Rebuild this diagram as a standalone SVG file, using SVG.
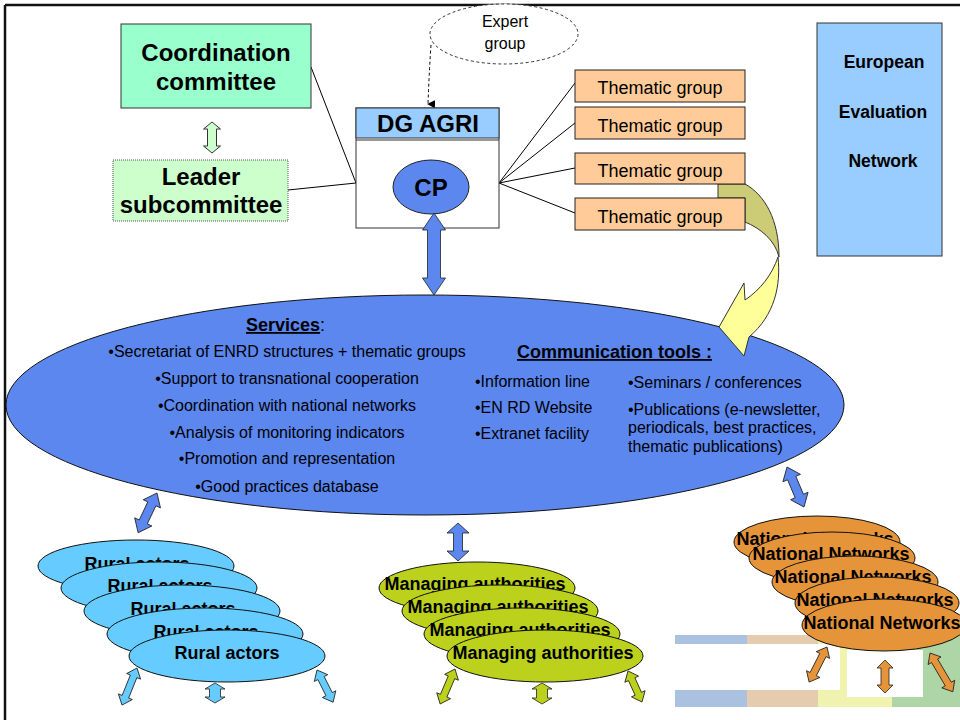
<svg xmlns="http://www.w3.org/2000/svg" width="960" height="720" viewBox="0 0 960 720">
<style>
text{font-family:"Liberation Sans",Arial,sans-serif;fill:#000}
.b{font-weight:bold}
.box{stroke:#333;stroke-width:1}
.ln{stroke:#000;stroke-width:1;fill:none}
.arB{fill:#5B87EF;stroke:#222;stroke-width:0.8}
.arR{fill:#66CCFF;stroke:#222;stroke-width:0.8}
.arM{fill:#BCD11B;stroke:#222;stroke-width:0.8}
.arN{fill:#E6943A;stroke:#222;stroke-width:0.8}
.eR{fill:#66CCFF;stroke:#111;stroke-width:1}
.eM{fill:#BCD11B;stroke:#111;stroke-width:1}
.eN{fill:#E6943A;stroke:#111;stroke-width:1}
.th{fill:#FFCC99;stroke:#222;stroke-width:1}
.stk{font-size:18px;font-weight:bold;text-anchor:middle}
</style>
<defs>
<marker id="ah" markerWidth="8" markerHeight="8" refX="4" refY="7" orient="auto-start-reverse" markerUnits="userSpaceOnUse" viewBox="0 0 8 8">
<path d="M0,0 L8,0 L4,8 Z" fill="#000"/>
</marker>
</defs>
<rect width="960" height="720" fill="#fff"/>

<!-- background bars -->
<g id="bgbars">
<rect x="675" y="635" width="72" height="72" fill="#AAC2E0"/>
<rect x="747" y="635" width="71" height="72" fill="#E6CCAE"/>
<rect x="818" y="635" width="74" height="72" fill="#F0F2B0"/>
<rect x="892" y="635" width="68" height="72" fill="#AED5A5"/>
<rect x="675" y="644" width="165" height="46" fill="#fff"/>
<rect x="847" y="650" width="76" height="47" fill="#fff"/>
</g>

<!-- frame -->
<path d="M5,5 H960 M5,5 V720" stroke="#111" stroke-width="2.5" fill="none"/>

<!-- connectors -->
<g id="connectors">
<path class="ln" d="M311,67 L356,183"/>
<path class="ln" d="M288,190 L356,183"/>
<path class="ln" d="M499,183 L575,83 M499,183 L575,123 M499,183 L575,168 M499,183 L575,213"/>
<path class="ln" d="M431,139 V160"/>
<path d="M431,45 Q429,75 428,104" stroke="#000" stroke-width="1" fill="none" stroke-dasharray="3,2.5" marker-end="url(#ah)"/>
<polygon class="box" fill="#CCFFCC" transform="translate(212,122) rotate(90)" points="0,0 7,-8.5 7,-4.5 24,-4.5 24,-8.5 31,0 24,8.5 24,4.5 7,4.5 7,8.5"/>
</g>

<!-- expert group -->
<g id="expert">
<ellipse cx="504" cy="34" rx="74" ry="30" fill="#fff" stroke="#333" stroke-width="1" stroke-dasharray="3,2.5"/>
<text x="505" y="27" font-size="16" text-anchor="middle">Expert</text>
<text x="505" y="49" font-size="16" text-anchor="middle">group</text>
</g>

<!-- coordination committee -->
<g id="coord">
<rect x="121" y="24" width="190" height="84" fill="#99FFCC" class="box"/>
<text x="216" y="61" font-size="24" class="b" text-anchor="middle">Coordination</text>
<text x="216" y="90" font-size="24" class="b" text-anchor="middle">committee</text>
</g>

<!-- leader subcommittee -->
<g id="leader">
<rect x="113" y="160" width="175" height="61" fill="#CCFFCC" stroke="#555" stroke-width="1" stroke-dasharray="1,1"/>
<text x="201" y="185" font-size="24" class="b" text-anchor="middle">Leader</text>
<text x="201" y="213" font-size="24" class="b" text-anchor="middle">subcommittee</text>
</g>

<!-- DG AGRI -->
<g id="dgagri">
<rect x="356" y="108" width="143" height="120" fill="#fff" class="box"/>
<rect x="356" y="108" width="143" height="30" fill="#99CCFF" class="box"/>
<line x1="356" y1="140" x2="499" y2="140" stroke="#333" stroke-width="1"/>
<text x="428" y="132" font-size="24" class="b" text-anchor="middle">DG AGRI</text>
</g>
<g id="cp">
<ellipse cx="431" cy="187" rx="38" ry="27" fill="#5B87EF" stroke="#222" stroke-width="1"/>
<text x="431" y="196" font-size="24" class="b" text-anchor="middle">CP</text>
</g>

<!-- European Evaluation Network -->
<g id="een">
<rect x="817" y="23" width="125" height="233" fill="#99CCFF" class="box"/>
<text x="884" y="68" font-size="17.5" class="b" text-anchor="middle">European</text>
<text x="883" y="118" font-size="17.5" class="b" text-anchor="middle">Evaluation</text>
<text x="883" y="167" font-size="17.5" class="b" text-anchor="middle">Network</text>
</g>

<!-- main ellipse -->
<g id="services">
<ellipse cx="425" cy="405" rx="419" ry="110" fill="#5B87EF" stroke="#111" stroke-width="1"/>
<text x="246" y="331" font-size="18"><tspan font-weight="bold" text-decoration="underline">Services</tspan>:</text>
<g text-anchor="middle">
<text x="287" y="357" font-size="16">•Secretariat of ENRD structures + thematic groups</text>
<text x="287" y="384" font-size="16">•Support to transnational cooperation</text>
<text x="287" y="411" font-size="16">•Coordination with national networks</text>
<text x="287" y="438" font-size="16">•Analysis of monitoring indicators</text>
<text x="287" y="464" font-size="16">•Promotion and representation</text>
<text x="287" y="492" font-size="16">•Good practices database</text>
</g>
<text x="517" y="358" font-size="18" font-weight="bold" text-decoration="underline">Communication tools :</text>
<text x="475" y="387" font-size="16">•Information line</text>
<text x="475" y="413" font-size="16">•EN RD Website</text>
<text x="475" y="439" font-size="16">•Extranet facility</text>
<text x="628" y="388" font-size="16">•Seminars / conferences</text>
<text x="628" y="415" font-size="16">•Publications (e-newsletter,</text>
<text x="628" y="433" font-size="16">periodicals, best practices,</text>
<text x="628" y="452" font-size="16">thematic publications)</text>
</g>

<!-- curved arrow -->
<g id="curved">
<path d="M718,184 L745,184 C765,195 779,220 779,257 C775,240 760,228 745,222 L745,198 L718,198 Z" fill="#CCCC77" stroke="#333" stroke-width="1"/>
<path d="M778,257 C781,285 775,315 749,337 L744,356 L719,327 L744,283 L745,300 C760,290 772,275 778,257 Z" fill="#FFFF99" stroke="#333" stroke-width="1"/>
</g>

<!-- thematic groups -->
<g id="tg1"><rect class="th" x="575" y="70" width="170" height="32"/><text x="660" y="94" font-size="18" text-anchor="middle">Thematic group</text></g>
<g id="tg2"><rect class="th" x="575" y="107" width="170" height="32"/><text x="660" y="132" font-size="18" text-anchor="middle">Thematic group</text></g>
<g id="tg3"><rect class="th" x="575" y="153" width="170" height="31"/><text x="660" y="177" font-size="18" text-anchor="middle">Thematic group</text></g>
<g id="tg4"><rect class="th" x="575" y="198" width="170" height="32"/><text x="660" y="223" font-size="18" text-anchor="middle">Thematic group</text></g>

<!-- blue arrows -->
<g id="blue-arrows">
<polygon class="arB" points="434,213 445.5,230 440.5,230 440.5,278 445.5,278 434,295 422.5,278 427.5,278 427.5,230 422.5,230"/>
<polygon class="arB" transform="translate(157,493) rotate(115.4)" points="0,0 12,-9.5 12,-4.5 32,-4.5 32,-9.5 44,0 32,9.5 32,4.5 12,4.5 12,9.5"/>
<polygon class="arB" transform="translate(458,523) rotate(90)" points="0,0 10,-11 10,-4.5 28,-4.5 28,-11 38,0 28,11 28,4.5 10,4.5 10,11"/>
<polygon class="arB" transform="translate(787,467) rotate(67)" points="0,0 12,-9.5 12,-4.5 31.5,-4.5 31.5,-9.5 43.5,0 31.5,9.5 31.5,4.5 12,4.5 12,9.5"/>
</g>

<!-- rural actors -->
<g id="ra1"><ellipse class="eR" cx="136" cy="566" rx="98" ry="26"/><text class="stk" x="137" y="570">Rural actors</text></g>
<g id="ra2"><ellipse class="eR" cx="159" cy="588" rx="98" ry="26"/><text class="stk" x="160" y="592">Rural actors</text></g>
<g id="ra3"><ellipse class="eR" cx="182" cy="611" rx="98" ry="26"/><text class="stk" x="183" y="615">Rural actors</text></g>
<g id="ra4"><ellipse class="eR" cx="205" cy="634" rx="98" ry="26"/><text class="stk" x="206" y="638">Rural actors</text></g>
<g id="ra5"><ellipse class="eR" cx="227" cy="656" rx="98" ry="26"/><text class="stk" x="227" y="659">Rural actors</text></g>
<g id="ra-arrows">
<polygon class="arR" transform="translate(137,668) rotate(112)" points="0,0 9,-7.5 9,-3.5 31,-3.5 31,-7.5 40,0 31,7.5 31,3.5 9,3.5 9,7.5"/>
<polygon class="arR" transform="translate(215,683) rotate(90)" points="0,0 6,-10 6,-5.5 14,-5.5 14,-10 20,0 14,10 14,5.5 6,5.5 6,10"/>
<polygon class="arR" transform="translate(317,670) rotate(63.4)" points="0,0 9,-7.5 9,-3.5 27,-3.5 27,-7.5 36,0 27,7.5 27,3.5 9,3.5 9,7.5"/>
</g>

<!-- managing authorities -->
<g id="ma1"><ellipse class="eM" cx="477" cy="588" rx="98" ry="26"/><text class="stk" x="475" y="590">Managing authorities</text></g>
<g id="ma2"><ellipse class="eM" cx="500" cy="611" rx="98" ry="26"/><text class="stk" x="498" y="613">Managing authorities</text></g>
<g id="ma3"><ellipse class="eM" cx="522" cy="634" rx="98" ry="26"/><text class="stk" x="520" y="636">Managing authorities</text></g>
<g id="ma4"><ellipse class="eM" cx="545" cy="656" rx="98" ry="26"/><text class="stk" x="543" y="659">Managing authorities</text></g>
<g id="ma-arrows">
<polygon class="arM" transform="translate(455,669) rotate(113)" points="0,0 9,-7.5 9,-3.5 29,-3.5 29,-7.5 38,0 29,7.5 29,3.5 9,3.5 9,7.5"/>
<polygon class="arM" transform="translate(542,683) rotate(90)" points="0,0 6,-10 6,-5.5 15,-5.5 15,-10 21,0 15,10 15,5.5 6,5.5 6,10"/>
<polygon class="arM" transform="translate(628,671) rotate(65.7)" points="0,0 9,-7.5 9,-3.5 25,-3.5 25,-7.5 34,0 25,7.5 25,3.5 9,3.5 9,7.5"/>
</g>

<!-- national networks -->
<g id="nn1"><ellipse class="eN" cx="817" cy="542" rx="83" ry="26"/><text class="stk" x="815" y="545">National Networks</text></g>
<g id="nn2"><ellipse class="eN" cx="832" cy="558" rx="83" ry="26"/><text class="stk" x="831" y="560">National Networks</text></g>
<g id="nn3"><ellipse class="eN" cx="855" cy="582" rx="83" ry="26"/><text class="stk" x="853" y="583">National Networks</text></g>
<g id="nn4"><ellipse class="eN" cx="877" cy="603" rx="82" ry="26"/><text class="stk" x="875" y="606">National Networks</text></g>
<g id="nn5"><ellipse class="eN" cx="884" cy="625" rx="82" ry="26"/><text class="stk" x="882" y="629">National Networks</text></g>
<g id="nn-arrows">
<polygon class="arN" transform="translate(827,647) rotate(117)" points="0,0 9,-7.5 9,-3.5 30.4,-3.5 30.4,-7.5 39.4,0 30.4,7.5 30.4,3.5 9,3.5 9,7.5"/>
<polygon class="arN" transform="translate(885,660) rotate(90)" points="0,0 8,-8 8,-4 25,-4 25,-8 33,0 25,8 25,4 8,4 8,8"/>
<polygon class="arN" transform="translate(930,653) rotate(59.5)" points="0,0 9,-7.5 9,-3.5 36,-3.5 36,-7.5 45,0 36,7.5 36,3.5 9,3.5 9,7.5"/>
</g>
</svg>
